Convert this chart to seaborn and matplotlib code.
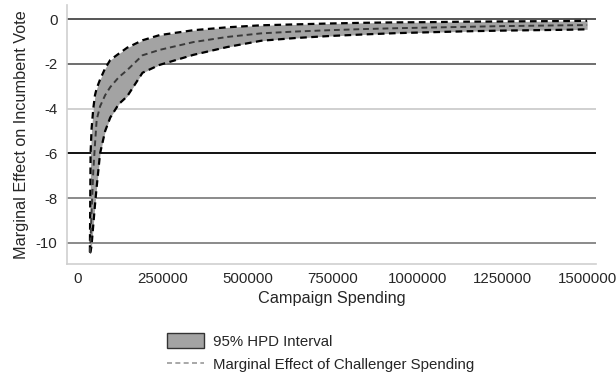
import numpy as np
import pandas as pd
import matplotlib
matplotlib.use("Agg")
import matplotlib.pyplot as plt
import seaborn as sns
from matplotlib.patches import Patch
from matplotlib.lines import Line2D

spending = [35000, 37000, 40000, 45000, 50000, 55000, 65000, 80000, 95000, 120000,
            145000, 190000, 240000, 340000, 440000, 540000, 640000, 740000, 840000,
            940000, 1040000, 1140000, 1240000, 1340000, 1440000, 1500000]
upper = [-10.4, -6.0, -4.9, -4.0, -3.4, -3.1, -2.7, -2.2, -1.83, -1.55,
         -1.28, -0.95, -0.72, -0.5, -0.37, -0.28, -0.24, -0.2, -0.17,
         -0.15, -0.14, -0.12, -0.11, -0.1, -0.09, -0.08]
mean = [-10.45, -9.8, -8.6, -6.8, -5.6, -4.5, -3.9, -3.4, -3.04, -2.6,
        -2.28, -1.62, -1.38, -1.03, -0.8, -0.64, -0.56, -0.5, -0.45,
        -0.41, -0.38, -0.35, -0.32, -0.3, -0.28, -0.27]
lower = [-10.45, -10.4, -10.1, -9.2, -8.3, -7.5, -6.0, -5.0, -4.4, -3.8,
         -3.45, -2.4, -2.05, -1.6, -1.25, -0.97, -0.85, -0.76, -0.69,
         -0.63, -0.59, -0.55, -0.52, -0.5, -0.48, -0.46]

xticks = [0, 250000, 500000, 750000, 1000000, 1250000, 1500000]
yticks = [0, -2, -4, -6, -8, -10]
grid_colors = ["#555555", "#6e6e6e", "#d0d0d0", "#111111", "#8a8a8a", "#8a8a8a"]

sns.set_style("white")
plt.rcParams["font.family"] = ["Liberation Sans", "DejaVu Sans"]

df = pd.DataFrame({"spending": spending, "upper": upper, "mean": mean, "lower": lower})

fig = plt.figure(figsize=(6.16, 3.77), dpi=100)
ax = fig.add_axes([0.109, 0.2997, 0.859, 0.687])

for yv, c in zip(yticks, grid_colors):
    ax.axhline(yv, color=c, lw=1.4, zorder=0)

ax.fill_between(df["spending"], df["lower"], df["upper"], color="#a3a3a3", lw=0, zorder=1)
sns.lineplot(data=df, x="spending", y="upper", ax=ax, color="black", lw=1.6,
             linestyle=(0, (3, 2)), zorder=2)
sns.lineplot(data=df, x="spending", y="lower", ax=ax, color="black", lw=1.6,
             linestyle=(0, (3, 2)), zorder=2)
sns.lineplot(data=df, x="spending", y="mean", ax=ax, color="#3a3a3a", lw=1.4,
             linestyle=(0, (3, 2)), zorder=3)

ax.set_xlim(-32000, 1527000)
ax.set_ylim(-10.94, 0.625)
ax.set_xticks(xticks)
ax.set_xticklabels([str(v) for v in xticks])
ax.set_yticks(yticks)
ax.set_yticklabels([str(v) for v in yticks])
ax.tick_params(axis="x", length=4, width=1, color="#333333", labelsize=10.8, pad=2)
ax.tick_params(axis="y", length=4, width=1, color="#888888", labelsize=10.8, pad=3)
for s in ["top", "right"]:
    ax.spines[s].set_visible(False)
for s in ["left", "bottom"]:
    ax.spines[s].set_color("#cfcfcf")
    ax.spines[s].set_linewidth(1.2)

ax.set_xlabel("Campaign Spending", fontsize=11.7, labelpad=3)
ax.set_ylabel("Marginal Effect on Incumbent Vote", fontsize=11.7, labelpad=5)

handles = [
    Patch(facecolor="#a3a3a3", edgecolor="#333333", linewidth=1.0),
    Line2D([0], [0], color="#9a9a9a", lw=1.2, linestyle=(0, (3, 2))),
]
labels = ["95% HPD Interval", "Marginal Effect of Challenger Spending"]
fig.legend(handles, labels, loc="upper left", bbox_to_anchor=(0.261, 0.132),
           frameon=False, fontsize=10.8, handlelength=2.47, handleheight=1.13,
           labelspacing=0.55, handletextpad=0.6, borderaxespad=0)

fig.savefig("out.png", dpi=100)
